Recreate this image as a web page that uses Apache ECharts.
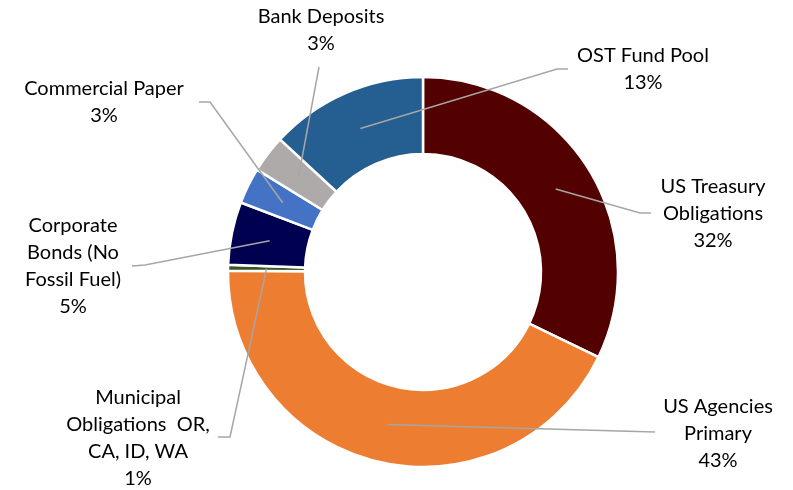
<!DOCTYPE html>
<html>
<head>
<meta charset="utf-8">
<script src="https://cdn.jsdelivr.net/npm/echarts@6/dist/echarts.min.js"></script>
<style>
  html, body { margin: 0; padding: 0; background: #fff; }
  #chart { width: 793px; height: 490px; }
</style>
</head>
<body>
<div id="chart"></div>
<script>
  // data
  const names = [
    'US Treasury\nObligations',
    'US Agencies\nPrimary',
    'Municipal\nObligations  OR,\nCA, ID, WA',
    'Corporate\nBonds (No\nFossil Fuel)',
    'Commercial Paper',
    'Bank Deposits',
    'OST Fund Pool'
  ]
  const values = [32.2, 42.9, 0.5, 5.2, 3.0, 3.1, 13.1]
  const pctLabels = ['32%', '43%', '1%', '5%', '3%', '3%', '13%']
  const colors = ['#530000', '#ED7D31', '#375623', '#000050', '#4472C4', '#AEAAAA', '#255E91']

  // where each label sits and where its leader line ends
  const labelPos = [[713, 214], [718, 434], [138, 438], [73, 266], [104, 102], [321, 30], [643, 69]]
  const lineEnds = [
    [[640, 213], [651, 213]],
    [[655, 432], [655, 432]],
    [[230, 437], [218, 437]],
    [[145, 265], [132, 266]],
    [[210, 102], [199, 102]],
    [[319, 67], [319, 67]],
    [[557, 69], [568, 69]]
  ]

  const cx = 423, cy = 272, r0 = 118, r1 = 195
  const total = values.reduce((a, b) => a + b, 0)

  // start of leader line: middle of the ring at the slice's mid angle
  function lineStart(i) {
    let before = 0
    for (let k = 0; k < i; k++) before += values[k]
    const mid = (before + values[i] / 2) / total * 2 * Math.PI
    const rm = (r0 + r1) / 2
    return [cx + rm * Math.sin(mid), cy - rm * Math.cos(mid)]
  }

  const common = {
    type: 'pie',
    center: [cx, cy],
    radius: [r0, r1],
    startAngle: 90,
    clockwise: true,
    avoidLabelOverlap: false
  }

  const myChart = echarts.init(document.getElementById('chart'))
  myChart.setOption({
    animation: false,
    series: [
      // the ring itself
      Object.assign({}, common, {
        z: 2,
        silent: true,
        itemStyle: { borderColor: '#fff', borderWidth: 2.5 },
        label: { show: false },
        labelLine: { show: false },
        data: names.map((n, i) => ({
          name: n,
          value: values[i],
          itemStyle: { color: colors[i] }
        }))
      }),
      // same slices, transparent, only to carry labels + leader lines on top
      Object.assign({}, common, {
        z: 5,
        silent: true,
        itemStyle: { color: 'rgba(0,0,0,0)', borderWidth: 0 },
        label: {
          show: true,
          position: 'outside',
          color: '#000',
          fontFamily: 'Lato',
          fontSize: 20,
          lineHeight: 27,
          align: 'center',
          formatter: p => p.name + '\n' + pctLabels[p.dataIndex]
        },
        labelLine: {
          show: true,
          lineStyle: { color: '#A6A6A6', width: 1.5 }
        },
        labelLayout: params => {
          const i = params.dataIndex
          return {
            x: labelPos[i][0],
            y: labelPos[i][1],
            align: 'center',
            verticalAlign: 'middle',
            labelLinePoints: [lineStart(i), lineEnds[i][0], lineEnds[i][1]]
          }
        },
        data: names.map((n, i) => ({ name: n, value: values[i] }))
      })
    ]
  })
</script>
</body>
</html>
